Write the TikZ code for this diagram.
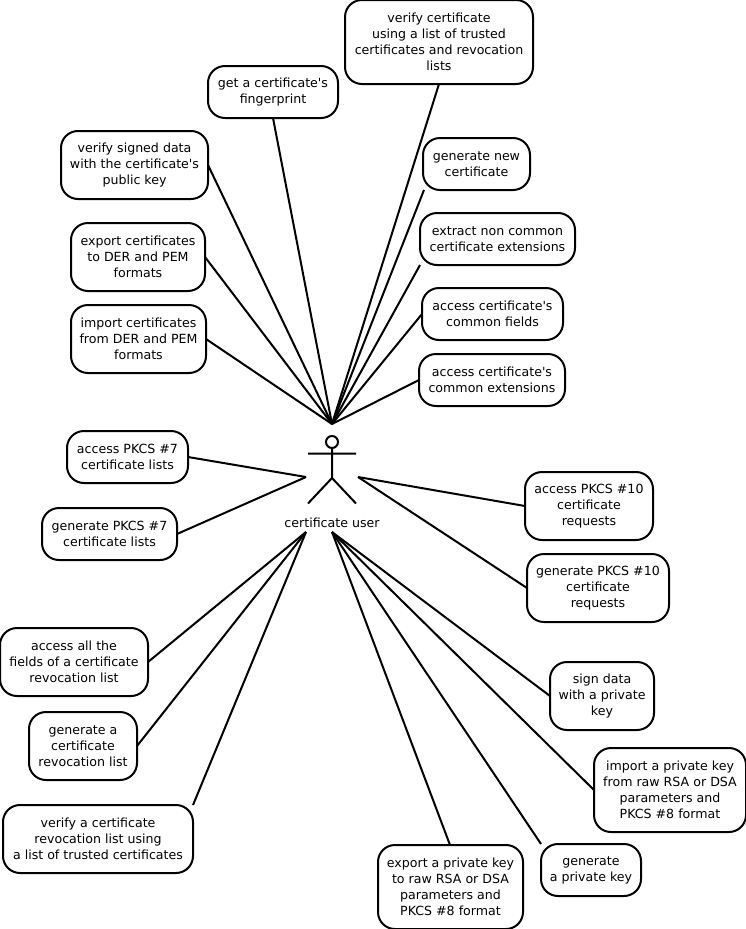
\documentclass[tikz,border=0pt]{standalone}
\usepackage{fontspec}
\setmainfont{DejaVu Sans}
\tikzset{
 every picture/.style={x=1pt,y=-1pt},
 uc/.style={draw=black,line width=2pt,rounded corners=17pt,fill=white,inner sep=0pt,align=center,font=\fontsize{12.6}{16}\selectfont},
 link/.style={draw=black,line width=2pt},
 actor/.style={draw=black,line width=2pt}
}
\newcommand{\ucbox}[6]{\node[uc,minimum width=#4pt-#2pt,minimum height=#5pt-#3pt] (#1) at ({(#2+#4)/2},{(#3+#5)/2}) {#6};}
\newcommand{\ap}{\textquotesingle}
\begin{document}
\begin{tikzpicture}
\useasboundingbox (0,0) rectangle (746,929);
\coordinate (top) at (332,424);
\coordinate (left) at (306,477);
\coordinate (right) at (358,477);
\coordinate (botl) at (306,532);
\coordinate (botm) at (332,532);
\ucbox{a}{345}{0}{533}{84}{verify certificate\\using a list of trusted\\certificates and revocation\\lists}
\ucbox{b}{208}{66}{338}{118}{get a certificate\ap s\\fingerprint}
\ucbox{c}{61}{131}{208}{199}{verify signed data\\with the certificate\ap s\\public key}
\ucbox{d}{423}{138}{530}{190}{generate new\\certificate}
\ucbox{e}{420}{213}{575}{265}{extract non common\\certificate extensions}
\ucbox{f}{71}{223}{205}{291}{export certificates\\to DER and PEM\\formats}
\ucbox{g}{422}{288}{563}{340}{access certificate\ap s\\common fields}
\ucbox{h}{71}{305}{206}{373}{import certificates\\from DER and PEM\\formats}
\ucbox{i}{419}{354}{565}{406}{access certificate\ap s\\common extensions}
\ucbox{j}{67}{431}{188}{483}{access PKCS \#7\\certificate lists}
\ucbox{k}{42}{508}{177}{560}{generate PKCS \#7\\certificate lists}
\ucbox{l}{525}{472}{653}{540}{access PKCS \#10\\certificate\\requests}
\ucbox{m}{527}{554}{669}{622}{generate PKCS \#10\\certificate\\requests}
\ucbox{n}{0}{628}{148}{696}{access all the\\fields of a certificate\\revocation list}
\ucbox{o}{29}{712}{137}{780}{generate a\\certificate\\revocation list}
\ucbox{p}{550}{662}{654}{730}{sign data\\with a private\\key}
\ucbox{q}{594}{748}{746}{832}{import a private key\\from raw RSA or DSA\\parameters and\\PKCS \#8 format}
\ucbox{r}{3}{805}{193}{873}{verify a certificate\\revocation list using\\a list of trusted certificates}
\ucbox{s}{541}{844}{641}{896}{generate\\a private key}
\ucbox{t}{378}{845}{523}{929}{export a private key\\to raw RSA or DSA\\parameters and\\PKCS \#8 format}
% actor
\node[draw=black,line width=2pt,circle,minimum size=12pt,inner sep=0pt] (head) at (332,442) {};
\coordinate (hip) at (332,478);
\coordinate (arml) at (308,453.5);
\coordinate (armr) at (356,453.5);
\coordinate (footl) at (308,503.5);
\coordinate (footr) at (356,503.5);
\draw[actor] (head) -- (hip) (arml) -- (armr) (footl) -- (hip) -- (footr);
\node[font=\fontsize{12.6}{14}\selectfont,inner sep=0pt] (lab) at (332,523) {certificate user};
% links
\coordinate (a1) at (439,84);
\coordinate (b1) at (273,118);
\coordinate (c1) at (208,165);
\coordinate (d1) at (424,190);
\coordinate (e1) at (420,265);
\coordinate (f1) at (205,257);
\coordinate (g1) at (422,314);
\coordinate (h1) at (206,339);
\coordinate (i1) at (419,380);
\coordinate (j1) at (188,457);
\coordinate (k1) at (177,534);
\coordinate (l1) at (525,506);
\coordinate (m1) at (527,588);
\coordinate (n1) at (148,662);
\coordinate (o1) at (137,746);
\coordinate (p1) at (550,696);
\coordinate (q1) at (594,790);
\coordinate (r1) at (193,805);
\coordinate (s1) at (541,844);
\coordinate (t1) at (450,845);
\foreach \p in {a1,b1,c1,d1,e1,f1,g1,h1,i1} \draw[link] (top) -- (\p);
\foreach \p in {j1,k1} \draw[link] (left) -- (\p);
\foreach \p in {l1,m1} \draw[link] (right) -- (\p);
\foreach \p in {n1,o1,r1} \draw[link] (botl) -- (\p);
\foreach \p in {p1,q1,s1,t1} \draw[link] (botm) -- (\p);
\end{tikzpicture}
\end{document}
